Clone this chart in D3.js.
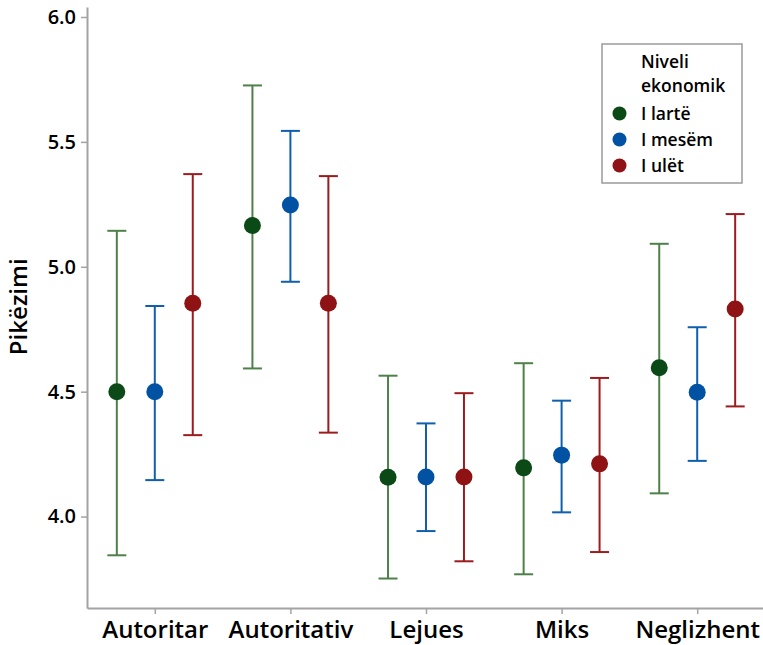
<!DOCTYPE html>
<html>
<head>
<meta charset="utf-8">
<script src="https://cdn.jsdelivr.net/npm/d3@7"></script>
<style>
  html, body { margin: 0; padding: 0; background: #ffffff; }
  svg { display: block; }
  text { font-family: "Open Sans", "Noto Sans", sans-serif; fill: #000; }
</style>
</head>
<body>
<svg id="chart" width="763" height="645"></svg>
<script>
// ---- data ----
const categories = ["Autoritar", "Autoritativ", "Lejues", "Miks", "Neglizhent"];
const seriesNames = ["I lartë", "I mesëm", "I ulët"];
const legendTitle = ["Niveli", "ekonomik"];
const yLabel = "Pikëzimi";
const yTicks = [4.0, 4.5, 5.0, 5.5, 6.0];

const meanHigh = [4.50, 5.165, 4.157, 4.195, 4.596];
const lowHigh  = [3.845, 4.593, 3.752, 3.769, 4.093];
const upHigh   = [5.144, 5.726, 4.564, 4.614, 5.092];

const meanMid = [4.50, 5.247, 4.158, 4.246, 4.498];
const lowMid  = [4.146, 4.940, 3.942, 4.017, 4.223];
const upMid   = [4.843, 5.544, 4.373, 4.464, 4.758];

const meanLow = [4.854, 4.854, 4.158, 4.211, 4.831];
const lowLow  = [4.326, 4.336, 3.821, 3.858, 4.441];
const upLow   = [5.371, 5.363, 4.494, 4.555, 5.211];

const lineColors  = ["#4e8049", "#0f5fae", "#9c1c1e"];
const pointColors = ["#0b4a16", "#0152a3", "#8f1214"];

const series = [
  { name: seriesNames[0], mean: meanHigh, low: lowHigh, up: upHigh },
  { name: seriesNames[1], mean: meanMid,  low: lowMid,  up: upMid },
  { name: seriesNames[2], mean: meanLow,  low: lowLow,  up: upLow }
];

// ---- scales ----
const svg = d3.select("#chart");
const x = d3.scaleLinear().domain([0.5, categories.length + 0.5]).range([87, 765]);
const y = d3.scaleLinear().domain([3.634, 6.04]).range([608, 7]);
const offset = d3.scalePoint().domain(d3.range(series.length)).range([-0.28, 0.28]);
const axisColor = "#a3a3a3";

// ---- axes ----
const yAxis = svg.append("g").attr("transform", "translate(87,0)")
  .call(d3.axisLeft(y).tickValues(yTicks).tickFormat(d3.format(".1f")).tickSize(6).tickPadding(5).tickSizeOuter(0));
yAxis.select(".domain").attr("stroke", axisColor).attr("stroke-width", 2);
yAxis.selectAll(".tick line").attr("stroke", axisColor).attr("stroke-width", 1.5);
yAxis.selectAll(".tick text").attr("font-size", 20).attr("font-weight", 600)
  .attr("fill", "#000").attr("font-family", "'Open Sans', sans-serif");

const xAxis = svg.append("g").attr("transform", "translate(0,608)")
  .call(d3.axisBottom(x).tickValues(d3.range(1, categories.length + 1))
    .tickFormat((d) => categories[d - 1]).tickSize(6).tickPadding(7).tickSizeOuter(0));
xAxis.select(".domain").attr("stroke", axisColor).attr("stroke-width", 2);
xAxis.selectAll(".tick line").attr("stroke", axisColor).attr("stroke-width", 1.5);
xAxis.selectAll(".tick text").attr("font-size", 24).attr("font-weight", 600)
  .attr("fill", "#000").attr("font-family", "'Open Sans', sans-serif");

// y label
svg.append("text")
  .attr("transform", `translate(27,${y(4.84)}) rotate(-90)`)
  .attr("text-anchor", "middle")
  .attr("font-size", 24).attr("font-weight", 600)
  .text(yLabel);

// ---- error bars ----
const capHalf = 9.5;
series.forEach((s, si) => {
  const g = svg.append("g");
  const idx = d3.range(categories.length);
  const cx = (i) => x(i + 1 + offset(si));
  g.selectAll("line.v").data(idx).join("line")
    .attr("x1", cx).attr("x2", cx)
    .attr("y1", (i) => y(s.up[i])).attr("y2", (i) => y(s.low[i]))
    .attr("stroke", lineColors[si]).attr("stroke-width", 2);
  g.selectAll("line.t").data(idx).join("line")
    .attr("x1", (i) => cx(i) - capHalf).attr("x2", (i) => cx(i) + capHalf)
    .attr("y1", (i) => y(s.up[i])).attr("y2", (i) => y(s.up[i]))
    .attr("stroke", lineColors[si]).attr("stroke-width", 2);
  g.selectAll("line.b").data(idx).join("line")
    .attr("x1", (i) => cx(i) - capHalf).attr("x2", (i) => cx(i) + capHalf)
    .attr("y1", (i) => y(s.low[i])).attr("y2", (i) => y(s.low[i]))
    .attr("stroke", lineColors[si]).attr("stroke-width", 2);
  g.selectAll("circle").data(idx).join("circle")
    .attr("cx", cx).attr("cy", (i) => y(s.mean[i])).attr("r", 8.5)
    .attr("fill", pointColors[si]);
});

// ---- legend ----
const lg = svg.append("g").attr("transform", "translate(602,44)");
lg.append("rect").attr("width", 140).attr("height", 139)
  .attr("fill", "#fff").attr("stroke", "#9a9a9a").attr("stroke-width", 1.5);
legendTitle.forEach((t, i) => {
  lg.append("text").attr("x", 39).attr("y", 24 + i * 24)
    .attr("font-size", 17.5).attr("font-weight", 600).text(t);
});
seriesNames.forEach((n, i) => {
  lg.append("circle").attr("cx", 17.5).attr("cy", 69.5 + i * 26).attr("r", 7)
    .attr("fill", pointColors[i]);
  lg.append("text").attr("x", 39).attr("y", 75.5 + i * 26)
    .attr("font-size", 17.5).attr("font-weight", 600).text(n);
});
</script>
</body>
</html>
